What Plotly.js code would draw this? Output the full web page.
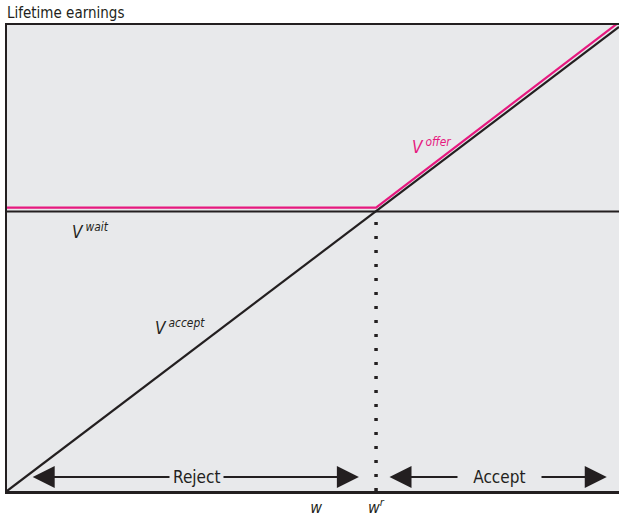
<!DOCTYPE html>
<html>
<head>
<meta charset="utf-8">
<script src="https://cdn.plot.ly/plotly-3.0.1.min.js"></script>
<style>html,body{margin:0;padding:0;background:#fff;}#chart{width:619px;height:522px;}</style>
</head>
<body>
<div id="chart"></div>
<script>
// Data (wage on x, lifetime earnings on y; arbitrary units)
const acceptX = [0, 100];
const acceptY = [0, 99.6];
const waitX = [0, 100];
const waitY = [60, 60];
const offerX = [0, 60.3, 100];
const offerY = [60.8, 60.8, 100.6];
const reservationWage = 60.3;
const offeredWage = 50.5;
const tickVals = [offeredWage, reservationWage];
const tickText = ['<i>w</i>', '<i>w<sup>r</sup></i>'];

const FONT = '"DejaVu Sans Condensed", "Liberation Sans Narrow", "DejaVu Sans", sans-serif';
const BG = '#e8e9eb';
const INK = '#231f20';
const PINK = '#e6197f';

const traces = [
  {x: waitX, y: waitY, mode: 'lines', line: {color: INK, width: 2}, hoverinfo: 'skip'},
  {x: acceptX, y: acceptY, mode: 'lines', line: {color: INK, width: 2.2}, hoverinfo: 'skip'},
  {x: offerX, y: offerY, mode: 'lines', line: {color: PINK, width: 2.2}, hoverinfo: 'skip'},
  {x: [reservationWage, reservationWage], y: [0, waitY[0]], mode: 'lines',
   line: {color: INK, width: 3.5, dash: '3px,11px'}, hoverinfo: 'skip'}
];

function arrow(x, ax, y) {
  return {x: x, y: y, ax: ax, ay: y, axref: 'x', ayref: 'y', xref: 'x', yref: 'y',
    text: '', showarrow: true, arrowhead: 2, arrowsize: 2, arrowwidth: 2.2, arrowcolor: INK};
}
const yArrow = 3;
const annotations = [
  arrow(4.2, 30, yArrow),
  arrow(57.5, 30, yArrow),
  arrow(62.5, 80, yArrow),
  arrow(98.0, 80, yArrow),
  {x: 30.9, y: yArrow, xref: 'x', yref: 'y', text: '&#8201;Reject&#8201;', showarrow: false,
   font: {family: FONT, size: 17, color: INK, stretch: 'condensed'}, bgcolor: BG, borderpad: 0},
  {x: 80.4, y: yArrow, xref: 'x', yref: 'y', text: '&#8195;Accept&#8195;', showarrow: false,
   font: {family: FONT, size: 17, color: INK, stretch: 'condensed'}, bgcolor: BG, borderpad: 0},
  {x: 69.4, y: 74.0, xref: 'x', yref: 'y', text: '<i>V&#8201;<sup>offer</sup></i>', showarrow: false,
   font: {family: FONT, size: 17, color: PINK, stretch: 'condensed'}},
  {x: 13.6, y: 55.9, xref: 'x', yref: 'y', text: '<i>V&#8201;<sup>wait</sup></i>', showarrow: false,
   font: {family: FONT, size: 17, color: INK, stretch: 'condensed'}},
  {x: 28.3, y: 35.3, xref: 'x', yref: 'y', text: '<i>V&#8201;<sup>accept</sup></i>', showarrow: false,
   font: {family: FONT, size: 17, color: INK, stretch: 'condensed'}},
  {x: 0, y: 1, xref: 'paper', yref: 'paper', xanchor: 'left', yanchor: 'bottom', yshift: 1, xshift: -2,
   text: 'Lifetime earnings', showarrow: false, font: {family: FONT, size: 15, color: INK, stretch: 'condensed'}}
];

const layout = {
  width: 619, height: 522,
  margin: {l: 7, r: 0, t: 25, b: 31},
  paper_bgcolor: '#ffffff',
  plot_bgcolor: BG,
  showlegend: false,
  xaxis: {range: [0, 100], showgrid: false, zeroline: false, showline: true, mirror: true,
    linecolor: INK, linewidth: 2.5, tickmode: 'array', tickvals: tickVals, ticktext: tickText,
    ticks: '', ticklen: 0, tickfont: {family: FONT, size: 16, color: INK}, fixedrange: true},
  yaxis: {range: [0, 100], showgrid: false, zeroline: false, showline: true, mirror: false,
    linecolor: INK, linewidth: 2.5, showticklabels: false, ticks: '', fixedrange: true},
  annotations: annotations
};

Plotly.newPlot('chart', traces, layout, {staticPlot: true});
</script>
</body>
</html>
